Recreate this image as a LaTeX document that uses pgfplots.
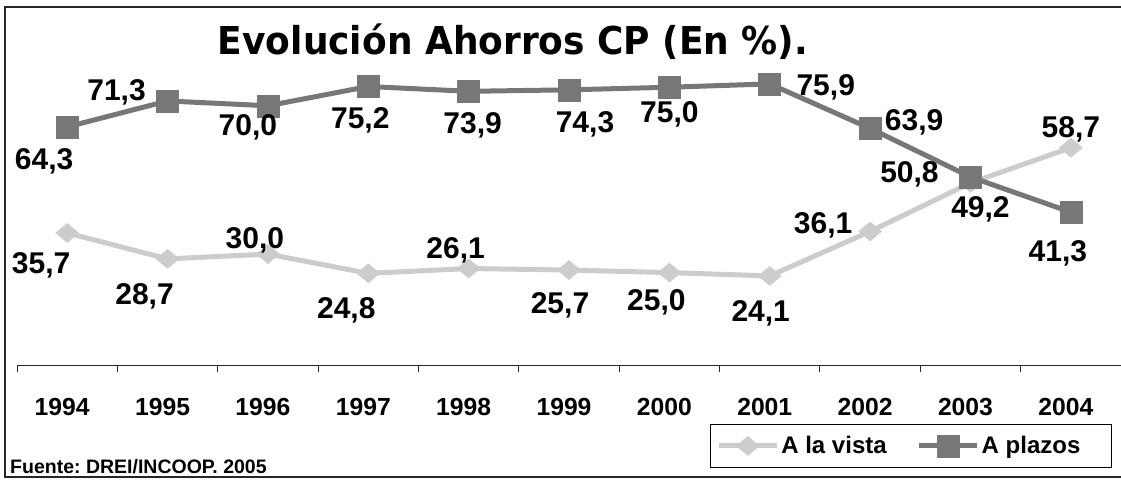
\documentclass[border=0pt]{standalone}
\usepackage{pgfplots}
\pgfplotsset{compat=1.18}
\usepackage{pgfplotstable}
\usepackage{fontspec}
\setmainfont{Liberation Sans}
\newfontfamily\titlefont{DejaVu Sans}
\definecolor{vista}{HTML}{CCCCCC}
\definecolor{plazos}{HTML}{777777}
\frenchspacing

\pgfplotstableread{
x y lab dx dy
0 35.7 35,7 -26 -32
1 28.7 28,7 -23 -37
2 30.0 30,0 -13 14
3 24.8 24,8 -22 -37
4 26.1 26,1 -13 18
5 25.7 25,7 -9 -35
6 25.0 25,0 -13 -30
7 24.1 24,1 -9 -37
8 36.1 36,1 -47 6
9 49.2 49,2 10 -26
10 58.7 58,7 0 18
}\vistatab

\pgfplotstableread{
x y lab dx dy
0 64.3 64,3 -23 -34
1 71.3 71,3 -51 9
2 70.0 70,0 -20 -22
3 75.2 75,2 -8 -34
4 73.9 73,9 4 -34
5 74.3 74,3 16 -35
6 75.0 75,0 0 -27
7 75.9 75,9 56 -3
8 63.9 63,9 44 6
9 50.8 50,8 -61 3
10 41.3 41,3 -13 -41
}\plazostab

\begin{document}
\begin{tikzpicture}[x=1bp,y=1bp]
\useasboundingbox (0,0) rectangle (1121,480);
\fill[white] (0,0) rectangle (1121,480);
\draw[line width=1.5bp, black!85] (5,3) rectangle (1135,473);
\begin{axis}[
  at={(17bp,114.7bp)}, anchor=south west,
  scale only axis,
  width=1104bp, height=352.2bp,
  xmin=-0.5, xmax=10.5, ymin=0, ymax=95,
  clip=false,
  axis x line*=bottom,
  axis y line=none,
  x axis line style={line width=1.2bp, black!85, -},
  xtick={0,...,10},
  xticklabels={1994,1995,1996,1997,1998,1999,2000,2001,2002,2003,2004},
  major tick length=0pt,
  minor xtick={-0.5,0.5,...,10.5},
  minor tick length=7bp,
  tick align=outside,
  minor tick style={line width=1bp, black!85},
  xticklabel style={font=\fontsize{24.7bp}{26bp}\selectfont\bfseries, inner sep=0pt, anchor=north, yshift=-33bp, xshift=-5bp},
  ytick=\empty,
  nodes near coords,
  point meta=explicit symbolic,
  visualization depends on={\thisrow{dx}\as\dx},
  visualization depends on={\thisrow{dy}\as\dy},
  every node near coord/.style={anchor=center, inner sep=0pt, xshift={\dx*1bp}, yshift={\dy*1bp},
     font=\fontsize{30bp}{32bp}\selectfont\bfseries, text=black},
  legend style={at={(0.9918,-0.2916)}, anchor=south east, draw=black, line width=1.2bp,
     font=\fontsize{24bp}{26bp}\selectfont\bfseries, inner xsep=6bp, inner ysep=10bp,
     /tikz/every even column/.append style={column sep=28bp}},
  legend columns=2,
  legend cell align=left,
  legend image code/.code={\draw[mark repeat=2,mark phase=2] plot coordinates {(0bp,0bp)(29bp,0bp)(58bp,0bp)};},
]
\addplot[color=vista, line width=5bp, mark=diamond*, mark size=9.5bp,
  mark options={xscale=1.6, solid, fill=vista, draw=vista, line width=0.5bp}]
  table[x=x, y=y, meta=lab] {\vistatab};
\addlegendentry{A la vista}
\addplot[color=plazos, line width=5bp, mark=square*, mark size=11bp,
  mark options={solid, fill=plazos, draw=plazos, line width=0.5bp}]
  table[x=x, y=y, meta=lab] {\plazostab};
\addlegendentry{A plazos\rule{23bp}{0pt}}
\end{axis}
\node[anchor=base] at (513,425) {\titlefont\fontsize{38.4bp}{40bp}\selectfont\bfseries\scalebox{0.937}[1]{Evolución Ahorros CP (En \%).}};
\node[anchor=base west, inner sep=0pt] at (10,6) {\fontsize{19.5bp}{21bp}\selectfont\bfseries Fuente: DREI/INCOOP. 2005};
\end{tikzpicture}
\end{document}
